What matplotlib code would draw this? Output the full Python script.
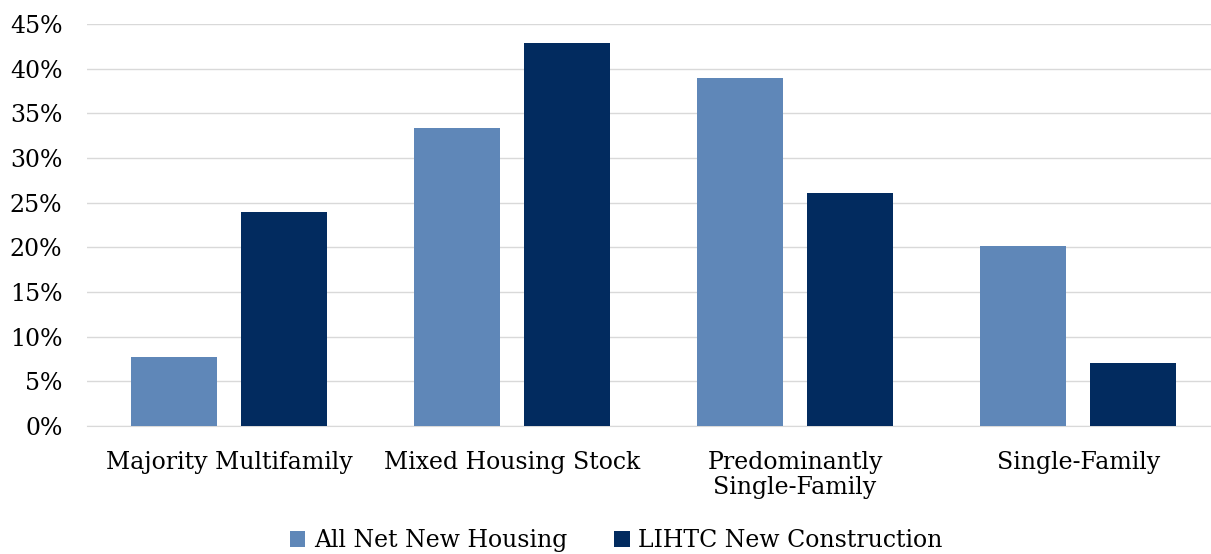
import matplotlib.pyplot as plt
import numpy as np

categories = ['Majority Multifamily', 'Mixed Housing Stock',
              'Predominantly\nSingle-Family', 'Single-Family']
all_net_new = [7.7, 33.4, 38.9, 20.1]
lihtc_new = [24.0, 42.9, 26.1, 7.0]
series_names = ['All Net New Housing', 'LIHTC New Construction']

plt.rcParams['font.family'] = ['DejaVu Serif']

fig = plt.figure(figsize=(12.11, 5.54), dpi=100)
ax = fig.add_axes([0.0722, 0.231, 0.935, 0.726])

x = np.arange(len(categories))
w = 0.304
ax.bar(x - 0.194, all_net_new, w, color='#5F87B8', label=series_names[0], zorder=3)
ax.bar(x + 0.194, lihtc_new, w, color='#022B5F', label=series_names[1], zorder=3)

ax.set_xlim(-0.5, 3.5)
ax.set_ylim(0, 45)
ax.set_yticks(range(0, 46, 5))
ax.set_yticklabels([f'{v}%' for v in range(0, 46, 5)], fontsize=17)
ax.set_xticks(x)
ax.set_xticklabels(categories, fontsize=17, linespacing=1.1)
ax.tick_params(axis='both', length=0)
ax.tick_params(axis='y', pad=18)
ax.tick_params(axis='x', pad=18)
ax.grid(axis='y', color='#D9D9D9', linewidth=1, zorder=0)
for s in ['top', 'right', 'left']:
    ax.spines[s].set_visible(False)
ax.spines['bottom'].set_color('#D9D9D9')

ax.legend(loc='upper center', bbox_to_anchor=(0.467, -0.245), ncol=2, frameon=False,
          fontsize=17, handlelength=0.65, handleheight=0.65, handletextpad=0.35,
          columnspacing=2.0, borderaxespad=0, borderpad=0.2)

fig.savefig('out.png', dpi=100)
